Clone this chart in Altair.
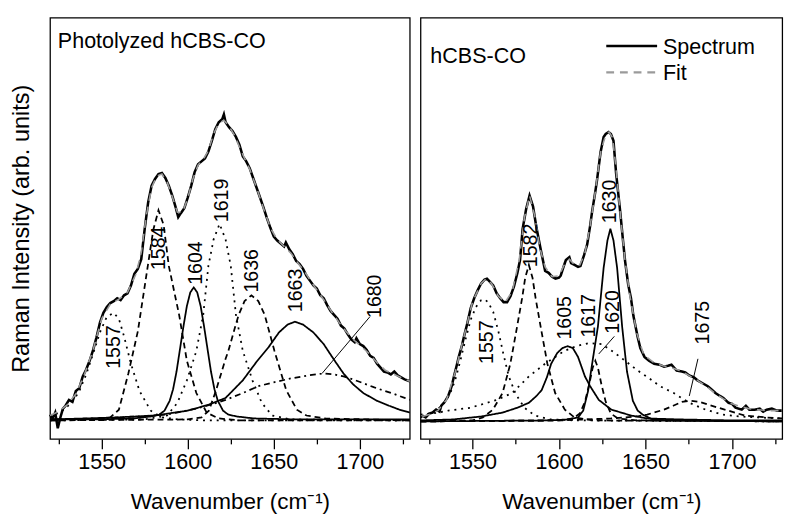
import altair as alt
import pandas as pd

FONT = "Liberation Sans"

# ---------------- Left panel: Photolyzed hCBS-CO ----------------
L_spec_w = [1520, 1521.5, 1523, 1524.5, 1526, 1527.5, 1529,
            1531, 1533, 1535, 1537, 1539, 1541, 1543, 1545, 1547, 1549,
            1551, 1553, 1555, 1557, 1559, 1561, 1563, 1565, 1567, 1569,
            1571, 1573, 1575, 1577, 1579, 1581, 1583, 1585, 1587, 1589,
            1591, 1593, 1594.5, 1596, 1598, 1600, 1602, 1604, 1606, 1608,
            1610, 1612, 1614, 1616, 1618, 1620, 1621, 1622, 1624, 1626,
            1628, 1630, 1632, 1634, 1636, 1638, 1640, 1642, 1644, 1646,
            1648, 1650, 1652, 1654, 1656, 1657, 1659, 1661, 1663, 1665,
            1667, 1669, 1671, 1673, 1675, 1677, 1679, 1681, 1683, 1685,
            1687, 1689, 1691, 1693, 1695, 1697, 1698, 1700, 1702, 1704,
            1706, 1708, 1710, 1712, 1714, 1716, 1718, 1720, 1722, 1724,
            1726, 1729]
L_spec_v = [6, 2, 8, -8, 3, 12, 15,
            21, 19, 30, 33, 45, 52, 61, 72, 85, 100,
            110, 116, 120, 122, 125, 123, 128, 130, 138, 150,
            155, 165, 196, 223, 240, 247, 252, 253, 248, 240,
            230, 218, 208, 212, 217, 228, 240, 254, 262, 265,
            268, 275, 286, 298, 305, 308, 313, 305, 300, 296,
            290, 282, 270, 265, 258, 248, 238, 228, 218, 207,
            197, 188, 184, 181, 178, 182, 175, 170, 163, 160,
            155, 148, 143, 138, 135, 128, 125, 118, 112, 108,
            104, 97, 94, 88, 83, 80, 84, 78, 76, 72,
            66, 64, 58, 54, 50, 49, 47, 50, 46, 44,
            42, 40]

L_fit_w = [1520, 1525, 1530, 1535, 1540, 1545, 1550, 1555, 1560, 1565,
           1570, 1573, 1576, 1579, 1582, 1585, 1588, 1591, 1594, 1597,
           1600, 1603, 1606, 1609, 1612, 1615, 1618, 1621, 1624, 1627,
           1630, 1633, 1636, 1640, 1644, 1648, 1652, 1656, 1660, 1664,
           1668, 1672, 1676, 1680, 1684, 1688, 1692, 1696, 1700, 1705,
           1710, 1715, 1720, 1725, 1729]
L_fit_v = [5, 9, 16, 27, 47, 72, 104, 119, 124, 131,
           150, 172, 210, 238, 250, 252, 244, 229, 213, 213,
           227, 247, 261, 267, 276, 293, 304, 307, 301, 292,
           280, 268, 257, 238, 217, 197, 185, 178, 171, 161,
           152, 141, 131, 121, 110, 100, 91, 83, 77, 69,
           59, 51, 47, 43, 40]

L1557_w = [1520, 1528, 1533, 1537, 1541, 1545, 1549, 1553, 1557, 1560, 1563, 1567, 1572, 1578.5, 1585, 1595, 1610, 1729]
L1557_v = [3, 11, 19, 30, 47, 68, 90, 106, 110, 104, 86, 58, 30, 10, 3, 1, 0, 0]
L1584_w = [1520, 1545, 1555, 1560, 1565.5, 1571, 1576.8, 1580, 1583, 1586, 1589, 1595, 1599.5, 1605, 1611, 1618, 1630, 1729]
L1584_v = [0, 1, 3, 11, 48, 91, 158, 195, 215, 200, 158, 108, 61, 28, 8, 2, 0, 0]
L1604_w = [1520, 1545, 1568.5, 1578.5, 1583.5, 1586.5, 1589.5, 1591.5, 1593.5, 1595.5,
           1597.5, 1599.5, 1601.5, 1603.5, 1605.5, 1607.5, 1609.5, 1611.5, 1613.5, 1615.5,
           1617.5, 1620.5, 1623.5, 1628.5, 1638.5, 1663.5, 1729]
L1604_v = [1, 1, 2, 4, 6, 10, 20, 32, 50, 73,
           96, 117, 131, 136, 131, 117, 96, 73, 50, 32,
           20, 10, 6, 4, 2, 1, 1]
L1619_w = [1520, 1575, 1588, 1594, 1599.5, 1605, 1609, 1612, 1615, 1618.5, 1622, 1625, 1628, 1632, 1637.6, 1643, 1649, 1660, 1729]
L1619_v = [0, 1, 5, 18, 41, 71, 108, 158, 185, 201, 185, 158, 108, 71, 41, 18, 5, 1, 0]
L1636_w = [1520, 1600, 1608, 1612.3, 1616.3, 1622, 1623.6, 1627.6, 1629.6, 1633, 1637, 1641, 1644.7, 1650.4, 1657.2, 1663.4, 1669, 1680, 1729]
L1636_v = [0, 1, 3, 10, 30, 63, 71, 96, 108, 122, 128, 122, 108, 71, 31, 11, 5, 2, 0]
L1663_w = [1520, 1540, 1558, 1581, 1600, 1612, 1622, 1632, 1640, 1647, 1653, 1658, 1662.3, 1667, 1673, 1679, 1685, 1690.5, 1696, 1702, 1710, 1717, 1723, 1729]
L1663_v = [1, 2, 3, 5, 10, 16, 23, 41, 60, 75, 90, 98, 101, 98, 90, 78, 62, 48, 37, 28, 20, 15, 11, 8]
L1680_w = [1520, 1550, 1570, 1588, 1605, 1615, 1622, 1632, 1641, 1650, 1660, 1670, 1679, 1685, 1690.5, 1696, 1702, 1708, 1713, 1720, 1726, 1729]
L1680_v = [1, 2, 4, 6, 12, 17, 21, 28, 35, 39, 43, 46, 48, 47, 45, 42, 38, 34, 31, 27, 23, 21]

L_lab_text = ["1557", "1584", "1604", "1619", "1636", "1663", "1680"]
L_lab_w = [1557, 1583.6, 1604.7, 1620, 1637.6, 1663.2, 1709]
L_lab_v = [75, 176, 161, 225, 153, 133, 127]

L_lead_w = [1705.8]
L_lead_v = [106]
L_lead_w2 = [1678]
L_lead_v2 = [48]

# ---------------- Right panel: hCBS-CO ----------------
R_spec_w = [1521, 1523, 1525, 1527, 1529, 1531, 1532, 1534, 1536, 1538,
            1539.3, 1541, 1542.1, 1544, 1545, 1547, 1549, 1551, 1553, 1555,
            1557, 1558.4, 1560, 1562, 1564, 1566, 1568, 1570, 1572, 1574,
            1576, 1577.5, 1579, 1581, 1583, 1585, 1587, 1589, 1590, 1592,
            1594, 1596, 1598, 1600, 1601, 1603, 1604, 1606, 1607, 1609,
            1611, 1612.4, 1614.5, 1616.3, 1618, 1619.1, 1621, 1622, 1624, 1625.8,
            1627, 1628.7, 1630, 1631.5, 1633, 1635.4, 1637, 1638.2, 1640, 1641.6,
            1643, 1645.5, 1647, 1649.4, 1652, 1655, 1658, 1660.7, 1663, 1665,
            1668, 1671, 1673, 1675.3, 1678, 1680, 1683, 1686, 1688, 1690.4,
            1693, 1695, 1698, 1700, 1702, 1705.6, 1708, 1710, 1713, 1716,
            1718, 1720, 1723, 1726, 1728.7]
R_spec_v = [6, 4, 8, 9, 12, 10, 16, 20, 26, 36,
            46, 58, 66, 78, 86, 100, 116, 126, 134, 141,
            145, 146, 143, 139, 131, 126, 122, 122, 128, 138,
            152, 165, 197, 217, 231, 220, 198, 180, 171, 154,
            152, 148, 146, 147, 149, 160, 165, 168, 162, 160,
            158, 159, 170, 181, 200, 214, 235, 247, 275, 291,
            294, 296, 294, 287, 254, 214, 185, 164, 140, 126,
            108, 86, 75, 66, 62, 59, 58, 56, 57, 58,
            52, 51, 50, 47, 45, 42, 39, 36, 33, 29,
            26, 24, 19, 18, 14, 12, 16, 12, 12, 13,
            10, 12, 13, 11, 11]

R_fit_w = [1521, 1525, 1530, 1535, 1540, 1545, 1550, 1555, 1558, 1561,
           1565, 1569, 1573, 1577, 1580, 1583, 1586, 1589, 1592, 1596,
           1600, 1603, 1606, 1609, 1612, 1615, 1618, 1621, 1624, 1627,
           1629, 1631, 1633, 1635, 1638, 1641, 1645, 1649, 1655, 1660,
           1665, 1670, 1675, 1680, 1685, 1690, 1695, 1700, 1705, 1710,
           1715, 1720, 1725, 1729]
R_fit_v = [5, 7, 11, 22, 50, 86, 122, 141, 146, 141,
           128, 122, 133, 165, 208, 231, 210, 177, 158, 148,
           149, 160, 166, 160, 160, 172, 200, 235, 275, 293,
           296, 290, 258, 220, 167, 128, 90, 68, 60, 57,
           55, 52, 47, 42, 36, 29, 23, 18, 15, 13,
           12, 11, 11, 11]

R1557_w = [1520, 1528, 1533, 1537, 1540, 1543, 1546, 1549, 1552, 1555, 1557, 1559, 1562, 1565, 1568, 1571, 1575, 1580, 1586, 1595, 1610, 1729]
R1557_v = [4, 10, 17, 28, 42, 62, 84, 104, 117, 124, 125, 122, 112, 92, 68, 46, 28, 14, 6, 2, 1, 0]
R1582_w = [1520, 1550, 1556, 1561.8, 1567.4, 1571.9, 1575.3, 1578.7, 1580.5, 1582.6, 1584.7, 1586.5, 1589.9, 1593.3, 1597.8, 1603.4, 1609, 1620, 1729]
R1582_v = [0, 1, 4, 12, 29, 59, 92, 126, 147, 160, 147, 126, 92, 59, 29, 12, 4, 1, 0]
R1605_w = [1520, 1539, 1555, 1567.4, 1576, 1582.6, 1587, 1590, 1593, 1595.5, 1599, 1602, 1605, 1608, 1611, 1612.4, 1615, 1618, 1623, 1630.3, 1641.6, 1651, 1670, 1700, 1729]
R1605_v = [1, 2, 5, 9, 14, 19, 26, 32, 45, 59, 70, 75, 77, 75, 66, 59, 46, 36, 22, 12, 6, 3, 2, 1, 1]
R1617_w = [1520, 1530, 1536, 1549, 1564, 1573, 1582.6, 1592, 1603, 1610, 1617, 1624.7, 1631.5, 1638.2, 1645.5, 1652.2, 1658.4, 1666.3, 1675.3, 1684.8, 1694.4, 1705, 1715, 1729]
R1617_v = [7, 9, 11, 14, 22, 29, 46, 59, 72, 77, 80, 79, 71, 62, 52, 44, 36, 29, 19, 12, 7, 5, 4, 3]
R1620_w = [1520, 1600, 1608, 1612, 1615, 1617.5, 1619.5, 1621, 1622.5, 1624.5, 1627, 1630, 1634, 1645, 1729]
R1620_v = [0, 1, 3, 8, 20, 38, 55, 62, 55, 38, 20, 8, 3, 1, 0]
R1630_w = [1520, 1595, 1605, 1611, 1614, 1616.8, 1619.6, 1622.5, 1625.8, 1628, 1629.7, 1631.5, 1633.6, 1636.5, 1639.3, 1642.7, 1645.5, 1648.3, 1654, 1665, 1729]
R1630_v = [0, 1, 2, 4, 11, 31, 64, 97, 157, 185, 197, 185, 157, 97, 51, 21, 11, 7, 2, 1, 0]
R1675_w = [1520, 1600, 1630, 1645, 1651, 1660.7, 1666, 1671, 1676, 1681, 1686.5, 1692, 1697.8, 1707.3, 1720, 1729]
R1675_v = [0, 1, 3, 5, 7, 12, 16, 20, 21, 20, 17, 14, 11, 6, 4, 3]

R_lab_text = ["1557", "1582", "1605", "1617", "1620", "1630", "1675"]
R_lab_w = [1558.4, 1583.7, 1603.4, 1617.4, 1631.5, 1629.8, 1683.1]
R_lab_v = [81, 180, 106, 108, 112, 225, 101]

R_lead_w = [1632, 1680.3]
R_lead_v = [87, 64]
R_lead_w2 = [1623, 1675.3]
R_lead_v2 = [69, 26]

X_DOMAIN = [1520, 1729]
TICKS = [1525, 1550, 1575, 1600, 1625, 1650, 1675, 1700, 1725]

STYLE_DOMAIN = ["solid", "dashed", "dotted", "dashdot"]
STYLE_RANGE = [[1, 0], [6, 4], [2, 5], [6, 4, 2, 4]]


def comp_table(items):
    rows = []
    for name, style, ws, vs in items:
        for w, v in zip(ws, vs):
            rows.append({"name": name, "style": style, "w": w, "v": v})
    return pd.DataFrame(rows)


def xy_table(ws, vs):
    return pd.DataFrame({"w": ws, "v": vs})


x_axis = alt.Axis(
    values=TICKS, format="d",
    labelExpr="datum.value % 50 === 0 ? datum.label : ''",
    tickSize={"condition": {"test": "datum.value % 50 === 0", "value": 10}, "value": 5},
    grid=False, domain=False, tickColor="black", tickWidth=1.3,
    labelFontSize=22, labelFont=FONT, labelColor="black", labelPadding=3,
    titleFontSize=23, titleFont=FONT, titleFontWeight="normal", titleColor="black",
    titlePadding=19,
)


def make_panel(spec_w, spec_v, fit_w, fit_v, comps, lab_t, lab_w, lab_v,
               lw, lv, lw2, lv2, width, ydom, name, name_x, name_y, ytitle, legend):
    X = alt.X("w:Q", scale=alt.Scale(domain=X_DOMAIN, nice=False, zero=False),
              axis=x_axis, title="Wavenumber (cm⁻¹)")
    if ytitle:
        yaxis = alt.Axis(labels=False, ticks=False, domain=False, grid=False,
                         titleFontSize=24, titleFont=FONT, titleFontWeight="normal",
                         titleColor="black", titlePadding=17)
        Y = alt.Y("v:Q", scale=alt.Scale(domain=ydom, nice=False, zero=False),
                  axis=yaxis, title="Raman Intensity (arb. units)")
    else:
        Y = alt.Y("v:Q", scale=alt.Scale(domain=ydom, nice=False, zero=False), axis=None)

    comp = alt.Chart(comp_table(comps)).mark_line(color="black", strokeWidth=1.8).encode(
        x=X, y=Y, detail="name:N",
        strokeDash=alt.StrokeDash("style:N", scale=alt.Scale(domain=STYLE_DOMAIN, range=STYLE_RANGE), legend=None),
        order="w:Q",
    )
    spec = alt.Chart(xy_table(spec_w, spec_v)).mark_line(color="black", strokeWidth=2.6).encode(x=X, y=Y)
    fit = alt.Chart(xy_table(fit_w, fit_v)).mark_line(color="#9a9a9a", strokeWidth=1.6, strokeDash=[8, 6]).encode(x=X, y=Y)
    labels = alt.Chart(pd.DataFrame({"w": lab_w, "v": lab_v, "t": lab_t})).mark_text(
        angle=270, fontSize=20, font=FONT, align="center", baseline="middle", color="black"
    ).encode(x=X, y=Y, text="t:N")
    leads = alt.Chart(pd.DataFrame({"w": lw, "v": lv, "w2": lw2, "v2": lv2})).mark_rule(
        color="black", strokeWidth=1
    ).encode(x=X, y=Y, x2="w2:Q", y2="v2:Q")
    title = alt.Chart(pd.DataFrame({"t": [name]})).mark_text(
        align="left", baseline="alphabetic", fontSize=22, font=FONT, color="black"
    ).encode(x=alt.value(name_x), y=alt.value(name_y), text="t:N")

    layers = [comp, spec, fit, labels, leads, title]
    if legend:
        one = pd.DataFrame({"t": ["Spectrum"]})
        two = pd.DataFrame({"t": ["Fit"]})
        layers += [
            alt.Chart(one).mark_rule(color="black", strokeWidth=2.6).encode(
                x=alt.value(190), x2=alt.value(242), y=alt.value(29)),
            alt.Chart(two).mark_rule(color="#9a9a9a", strokeWidth=2.2, strokeDash=[8, 6]).encode(
                x=alt.value(190), x2=alt.value(242), y=alt.value(56)),
            alt.Chart(one).mark_text(align="left", baseline="middle", fontSize=22, font=FONT, color="black").encode(
                x=alt.value(248), y=alt.value(30), text="t:N"),
            alt.Chart(two).mark_text(align="left", baseline="middle", fontSize=22, font=FONT, color="black").encode(
                x=alt.value(248), y=alt.value(57), text="t:N"),
        ]
    return alt.layer(*layers).properties(width=width, height=431)


left = make_panel(
    L_spec_w, L_spec_v, L_fit_w, L_fit_v,
    [("1557", "dotted", L1557_w, L1557_v), ("1584", "dashed", L1584_w, L1584_v),
     ("1604", "solid", L1604_w, L1604_v), ("1619", "dotted", L1619_w, L1619_v),
     ("1636", "dashed", L1636_w, L1636_v), ("1663", "solid", L1663_w, L1663_v),
     ("1680", "dashdot", L1680_w, L1680_v)],
    L_lab_text, L_lab_w, L_lab_v, L_lead_w, L_lead_v, L_lead_w2, L_lead_v2,
    368, [-19, 412], "Photolyzed hCBS-CO", 8, 31, True, False)

right = make_panel(
    R_spec_w, R_spec_v, R_fit_w, R_fit_v,
    [("1557", "dotted", R1557_w, R1557_v), ("1582", "dashed", R1582_w, R1582_v),
     ("1605", "solid", R1605_w, R1605_v), ("1617", "dotted", R1617_w, R1617_v),
     ("1620", "dashed", R1620_w, R1620_v), ("1630", "solid", R1630_w, R1630_v),
     ("1675", "dashed", R1675_w, R1675_v)],
    R_lab_text, R_lab_w, R_lab_v, R_lead_w, R_lead_v, R_lead_w2, R_lead_v2,
    370, [-18, 413], "hCBS-CO", 10, 46, False, True)

chart = alt.hconcat(left, right, spacing=0).properties(
    padding={"left": 1, "top": 3, "right": 4, "bottom": 0},
    background="white",
).configure_view(stroke="black", strokeWidth=1.3)

chart.save("out.html", embed_options={"renderer": "svg", "actions": False})
